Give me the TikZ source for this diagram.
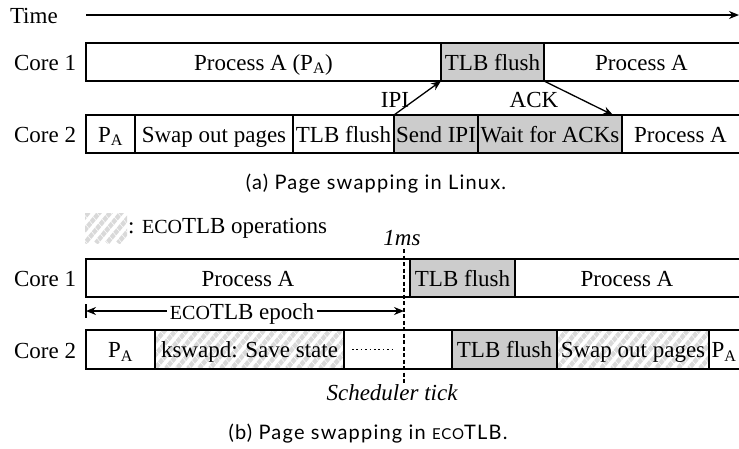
\documentclass[tikz,border=0pt]{standalone}
\usepackage{fontspec}
\setmainfont{Liberation Serif}
\newfontfamily\capfont[LetterSpace=6]{Lato}
\usetikzlibrary{arrows.meta,calc}
\begin{document}
\begin{tikzpicture}[x=1pt,y=-1pt,
  every node/.style={inner sep=0pt, outer sep=0pt, font=\fontsize{23}{26}\selectfont},
  cell/.style={minimum height=38pt, text height=16pt, text depth=0pt, anchor=west},
  graycell/.style={cell, fill=gray!40},
  hatchcell/.style={cell, path picture={
      \foreach \k in {-5,...,22} {\draw[gray!30, line width=4.5pt] ([xshift=\k*11pt]path picture bounding box.south west) -- ++(45pt,54pt);}
      \foreach \k in {0,...,40} {\draw[white, line width=0.5pt] ([xshift=\k*7pt-30pt]path picture bounding box.north west) -- ++(45pt,-54pt);}
  }},
  frame/.style={line width=1.8pt},
  divider/.style={line width=1.1pt},
  conn/.style={line width=1.3pt, -{Stealth[length=10pt,width=8pt]}},
  lbl/.style={anchor=base},
  captext/.style={anchor=base, font=\capfont\fontsize{20}{22}\selectfont},
  tickline/.style={line width=1.6pt, dash pattern=on 4pt off 2.5pt},
]
\useasboundingbox (0,0) rectangle (739,448);

% ---------- (a) ----------
\node[lbl, anchor=base west] (time) at (10,23) {Time};
\coordinate (timeend) at (739,15);
\draw[conn] (86,15) -- (timeend);

\node[lbl, anchor=base east] (core1a) at (76,70) {Core 1};
\node[cell, minimum width=355pt] (c1a1) at (86,62) {Process A (P\textsubscript{A})};
\node[graycell, minimum width=103pt] (c1a2) at (441,62) {TLB flush};
\node[cell, minimum width=195pt] (c1a3) at (544,62) {Process A};
\draw[frame] (745,43) -- (86,43) -- (86,81) -- (745,81);
\foreach \n in {c1a1,c1a2} \draw[divider] (\n.north east) -- (\n.south east);

\node[lbl, anchor=base east] (core2a) at (76,142) {Core 2};
\node[cell, minimum width=49pt] (c2a1) at (86,134) {P\textsubscript{A}};
\node[cell, minimum width=158pt] (c2a2) at (135,134) {Swap out pages};
\node[cell, minimum width=101pt] (c2a3) at (293,134) {TLB flush};
\node[graycell, minimum width=84pt] (c2a4) at (394,134) {Send IPI};
\node[graycell, minimum width=144pt] (c2a5) at (478,134) {Wait for ACKs};
\node[cell, minimum width=117pt] (c2a6) at (622,134) {Process A};
\draw[frame] (745,115) -- (86,115) -- (86,153) -- (745,153);
\foreach \n in {c2a1,c2a2,c2a3,c2a4,c2a5} \draw[divider] (\n.north east) -- (\n.south east);

\draw[conn] (c2a4.north west) -- (c1a2.south west);
\draw[conn] (c1a2.south east) -- ([xshift=-9pt]c2a5.north east);
\node[lbl] (ipi) at (395,107) {IPI};
\node[lbl] (ack) at (534,107) {ACK};

\node[captext] (capa) at (376,189) {(a) Page swapping in Linux.};

% ---------- (b) ----------
\node[hatchcell, minimum width=42pt, minimum height=30pt] (legend) at (85,228) {};
\node[lbl, anchor=base west] (legtxt) at (128,233) {: {\fontsize{20}{22}\selectfont ECO}TLB operations};

\node[lbl, font=\fontsize{23}{26}\selectfont\itshape] (onems) at (402,245) {1ms};
\coordinate (tickT) at (404,249);
\coordinate (tickB) at (404,383);

\node[lbl, anchor=base east] (core1b) at (76,286) {Core 1};
\node[cell, minimum width=324pt] (c1b1) at (86,278) {Process A};
\node[graycell, minimum width=105pt] (c1b2) at (410,278) {TLB flush};
\node[cell, minimum width=224pt] (c1b3) at (515,278) {Process A};
\draw[frame] (745,259) -- (86,259) -- (86,297) -- (745,297);
\foreach \n in {c1b1,c1b2} \draw[divider] (\n.north east) -- (\n.south east);

\coordinate (eL) at (86,311);
\coordinate (eR) at (404,311);
\node[inner xsep=3pt, text height=16pt, text depth=0pt] (epoch) at (242,311) {{\fontsize{20}{22}\selectfont ECO}TLB epoch};
\draw[conn] (epoch.west) -- (eL);
\draw[conn] (epoch.east) -- (eR);
\draw[divider] ([yshift=7pt]eL) -- ([yshift=-7pt]eL);

\node[lbl, anchor=base east] (core2b) at (76,358) {Core 2};
\node[cell, minimum width=69pt] (c2b1) at (86,349.5) {P\textsubscript{A}};
\node[hatchcell, minimum width=189pt] (c2b2) at (155,349.5) {kswapd: Save state};
\node[cell, minimum width=108pt] (c2b3) at (344,349.5) {};
\node[graycell, minimum width=105pt] (c2b4) at (452,349.5) {TLB flush};
\node[hatchcell, minimum width=152pt] (c2b5) at (557,349.5) {Swap out pages};
\node[cell, minimum width=30pt] (c2b6) at (709,349.5) {P\textsubscript{A}};
\draw[frame] (745,330) -- (86,330) -- (86,369) -- (745,369);
\foreach \n in {c2b1,c2b2,c2b3,c2b4,c2b5} \draw[divider] (\n.north east) -- (\n.south east);
\draw[line width=1.6pt, dash pattern=on 1.6pt off 2.8pt] ([xshift=8pt]c2b3.west) -- ([xshift=51pt]c2b3.west);

\draw[tickline] (tickT) -- (tickB);

\node[lbl, font=\fontsize{23}{26}\selectfont\itshape] (sched) at (392,400) {Scheduler tick};

\node[captext] (capb) at (368,439) {(b) Page swapping in {\fontsize{15}{17}\selectfont ECO}TLB.};
\end{tikzpicture}
\end{document}
